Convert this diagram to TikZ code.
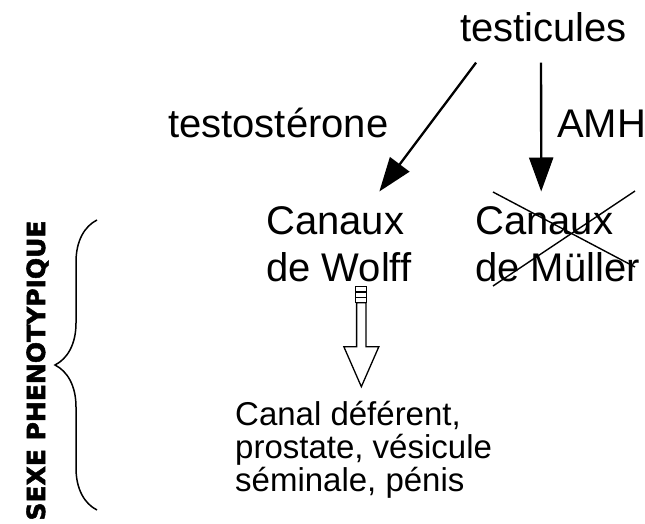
\documentclass[tikz,border=0pt]{standalone}
\usepackage{fontspec}
\setmainfont{Liberation Sans}
\newfontfamily\boldsans[FakeBold=2]{DejaVu Sans Bold}
\usetikzlibrary{arrows.meta,decorations.pathreplacing,calc}
\begin{document}
\begin{tikzpicture}[x=1pt,y=-1pt,
  big/.style={font=\fontsize{40}{47}\selectfont, inner sep=0pt, align=left},
  small/.style={font=\fontsize{33}{33}\selectfont, inner sep=0pt, align=left},
  arr/.style={line width=2.3pt, -{Triangle[length=34pt,width=24pt]}},
  crossline/.style={line width=1.4pt},
  blk/.style={line width=1.3pt, draw=black, fill=white, line join=miter},
  bracestyle/.style={line width=1.5pt, decorate, decoration={brace, amplitude=42pt}}]
\useasboundingbox[fill=white] (0,0) rectangle (645,524);

\node[big, anchor=base west] (testi) at (460,42) {testicules};
\node[big, anchor=base west] (testo) at (168,138) {testostérone};
\node[big, anchor=base west] (amh) at (557,138) {AMH};
\node[big, anchor=north west] (wolff) at (266,206) {Canaux\\de Wolff};
\node[big, anchor=north west] (muller) at (475,206) {Canaux\\de Müller};
\node[small, anchor=north west] (organs) at (235,401) {Canal déférent,\\prostate, vésicule\\séminale, pénis};
\node[rotate=90, anchor=base, inner sep=0pt, font=\boldsans\fontsize{25}{30}\selectfont] (sexe) at (45,370.5) {SEXE PHENOTYPIQUE};

% arrows from testicules
\draw[arr] ($(testi.south)+(-67.5,20)$) -- ($(wolff.north)+(40.5,-14.5)$);
\draw[arr] ($(testi.south)+(-2.5,20)$) -- ($(muller.north)+(-16.25,-14.5)$);

% cross over Mueller
\draw[crossline] ($(muller.north west)+(18,-14)$) -- ($(muller.north west)+(160,61)$);
\draw[crossline] ($(muller.north west)+(160,-15)$) -- ($(muller.north west)+(18,80)$);

% block arrow
\coordinate (ba) at ($(wolff.south)+(22.5,5)$);
\draw[blk] ($(ba)+(-5.5,0)$) rectangle ($(ba)+(5.5,5.3)$);
\draw[blk] ($(ba)+(-5.5,5.3)$) rectangle ($(ba)+(5.5,10.6)$);
\draw[blk] ($(ba)+(-5.5,10.6)$) rectangle ($(ba)+(5.5,16)$);
\draw[blk] ($(ba)+(-4.7,16)$) -- ($(ba)+(-4.7,60)$) -- ($(ba)+(-17.5,60)$) -- ($(ba)+(0,100)$)
  -- ($(ba)+(17.5,60)$) -- ($(ba)+(4.7,60)$) -- ($(ba)+(4.7,16)$) -- cycle;

% brace
\coordinate (bb) at (97,510);
\coordinate (bt) at (97,220);
\draw[bracestyle] (bb) -- (bt);
\end{tikzpicture}
\end{document}
